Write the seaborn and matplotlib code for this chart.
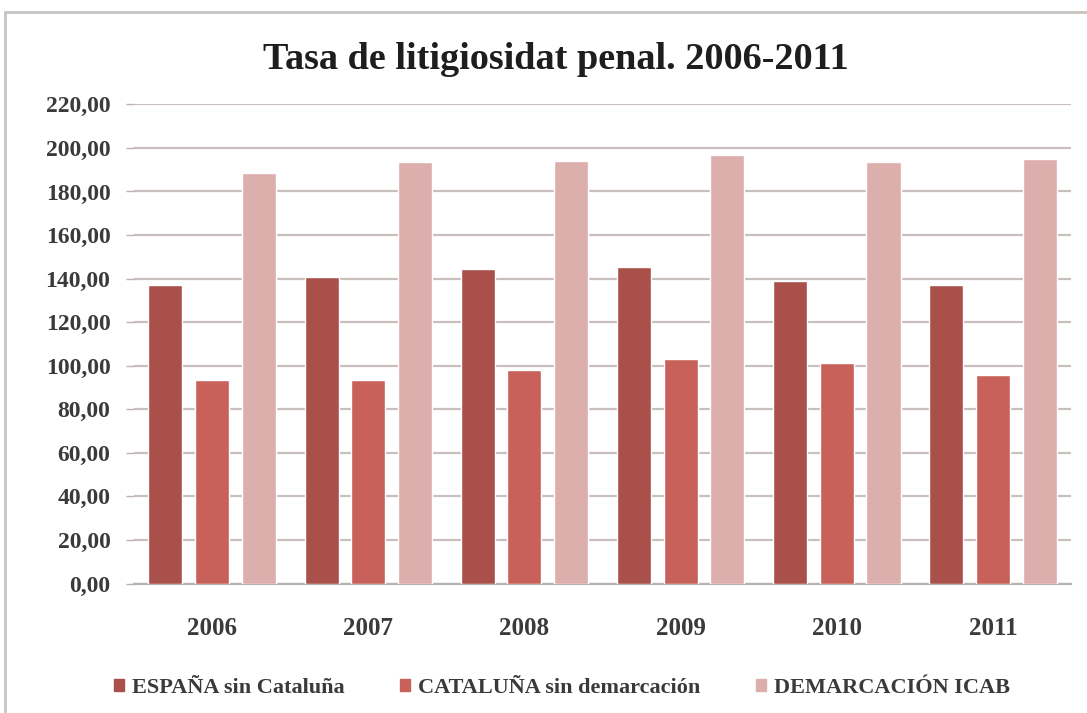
import matplotlib
matplotlib.use("Agg")
import matplotlib.pyplot as plt
from matplotlib.patches import Rectangle
from matplotlib.ticker import FuncFormatter
import seaborn as sns
import pandas as pd

years = ["2006", "2007", "2008", "2009", "2010", "2011"]
series_names = ["ESPAÑA sin Cataluña", "CATALUÑA sin demarcación", "DEMARCACIÓN ICAB"]
espana = [137.0, 140.8, 144.3, 145.2, 139.1, 137.0]
cataluna = [93.3, 93.3, 98.2, 103.2, 101.2, 95.9]
icab = [188.7, 193.7, 194.1, 196.8, 193.7, 194.8]
colors = ["#A9504B", "#C9615B", "#DCAEAC"]

df = pd.DataFrame({
    "year": years * 3,
    "serie": [n for n in series_names for _ in years],
    "valor": espana + cataluna + icab,
})

sns.set_theme(style="white")
plt.rcParams["font.family"] = ["Liberation Serif", "DejaVu Serif"]

fig = plt.figure(figsize=(10.87, 7.13), dpi=100)
ax = fig.add_axes([0.1233, 0.1816, 0.862, 0.672])

sns.barplot(data=df, x="year", y="valor", hue="serie", order=years,
            hue_order=series_names, palette=colors, width=0.897, gap=0.27,
            saturation=1, ax=ax, legend=False, zorder=3)

ax.set_ylim(0, 220)
ax.set_xlim(-0.5, len(years) - 0.5)
ax.set_yticks(range(0, 221, 20))
ax.yaxis.set_major_formatter(FuncFormatter(lambda v, _: f"{v:.2f}".replace(".", ",")))
ax.grid(axis="y", color="#C9BFBD", linewidth=1.6, zorder=0)
ax.set_axisbelow(True)
for s in ["top", "right", "left"]:
    ax.spines[s].set_visible(False)
ax.spines["bottom"].set_color("#B9B2B0")
ax.spines["bottom"].set_linewidth(1.6)
ax.tick_params(axis="y", left=True, length=6, width=1, color="#B9B2B0",
               labelsize=17, labelcolor="#3A3A3A", pad=11)
ax.tick_params(axis="x", bottom=False, labelsize=18, labelcolor="#3A3A3A", pad=18)
for lab in ax.get_yticklabels() + ax.get_xticklabels():
    lab.set_fontweight("bold")
ax.set_xlabel("")
ax.set_ylabel("")

fig.text(0.511, 0.917, "Tasa de litigiosidat penal. 2006-2011", ha="center", va="center",
         fontsize=27.5, fontweight="bold", color="#1E1E1E")

handles = [Rectangle((0, 0), 1, 1, color=c) for c in colors]
leg = fig.legend(handles, series_names, loc="center", bbox_to_anchor=(0.517, 0.035),
                 ncol=3, frameon=False, prop={"size": 16, "weight": "bold"},
                 handlelength=0.45, handleheight=0.5, handletextpad=0.35,
                 columnspacing=2.5, labelcolor="#3A3A3A")

fig.patches.append(Rectangle((5 / 1087, -0.1), 1.2, 1 - 12 / 713 + 0.1,
                             transform=fig.transFigure, fill=False,
                             edgecolor="#C8C4C2", linewidth=2))

fig.savefig("out.png", dpi=100, facecolor="white")
